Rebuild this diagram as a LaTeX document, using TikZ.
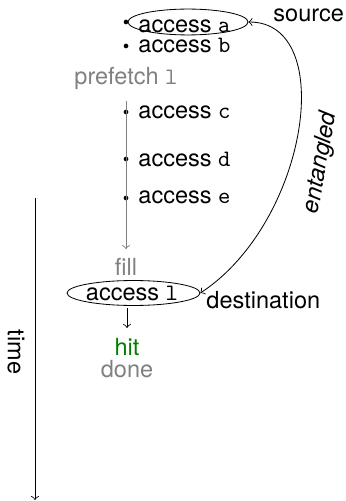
\documentclass[tikz,border=0pt]{standalone}
\usepackage{fontspec}
\setmainfont{TeX Gyre Heros}
\usetikzlibrary{shapes.geometric}
\definecolor{fadegray}{RGB}{128,128,128}
\definecolor{hitgreen}{RGB}{0,128,0}
\begin{document}
\begin{tikzpicture}[x=0.425pt,y=-0.425pt,
  lbl/.style={inner sep=0pt, anchor=base west, font=\fontsize{10}{12}\selectfont},
  clbl/.style={inner sep=0pt, anchor=base, font=\fontsize{10}{12}\selectfont},
  dotn/.style={circle, fill=black, inner sep=0pt, minimum size=2pt},
  ring/.style={draw, ellipse, inner sep=0pt, line width=0.35pt},
  conn/.style={line width=0.35pt, -to},
  faded/.style={text=fadegray}]
\useasboundingbox (0,0) rectangle (346,501);

% accesses issued before the fill
\node[dotn] (da) at (126,22) {};
\node[lbl] (ta) at (138,33) {access \texttt{a}};
\node[ring, minimum width=51pt, minimum height=11pt] (ea) at (188,22) {};
\node[dotn] (db) at (126,46) {};
\node[lbl] (tb) at (138,53) {access \texttt{b}};

\node[clbl, faded] (pf) at (126,85) {prefetch \texttt{l}};

\node[dotn] (dc) at (126,112) {};
\node[lbl] (tc) at (138,119) {access \texttt{c}};
\node[dotn] (dd) at (126,159) {};
\node[lbl] (td) at (138,166) {access \texttt{d}};
\node[dotn] (de) at (126,198) {};
\node[lbl] (te) at (138,203) {access \texttt{e}};

\node[clbl, faded] (fl) at (126,275) {fill};

% the later access that hits
\node[clbl] (tl) at (132,300) {access \texttt{l}};
\node[ring, minimum width=56.5pt, minimum height=10.6pt] (el) at (133.5,293) {};
\node[clbl, text=hitgreen] (hit) at (127,355) {hit};
\node[clbl, faded] (done) at (127,377) {done};

% prefetch in flight
\draw[conn, draw=fadegray, shorten <=4.5pt, shorten >=3.5pt] (pf.south) -- (fl.north);
\draw[conn, shorten >=4pt] (tl.south -| hit.north) ++(0,7) -- (hit.north);

% entanglement between source and destination
\draw[line width=0.35pt, to-to] (el.east) .. controls (308,222) and (338,22) .. (ea.east);
\node[lbl] (src) at (273,22) {source};
\node[lbl] (dst) at (206,308) {destination};
\node[inner sep=0pt, rotate=80, font=\fontsize{10}{12}\selectfont\itshape] (ent) at (321,163) {entangled};

% time axis
\coordinate (t0) at (35,198);
\coordinate (t1) at (35,500);
\draw[conn] (t0) -- (t1);
\node[inner sep=0pt, rotate=-90, font=\fontsize{10}{12}\selectfont] (time) at (16,352) {time};
\end{tikzpicture}
\end{document}
